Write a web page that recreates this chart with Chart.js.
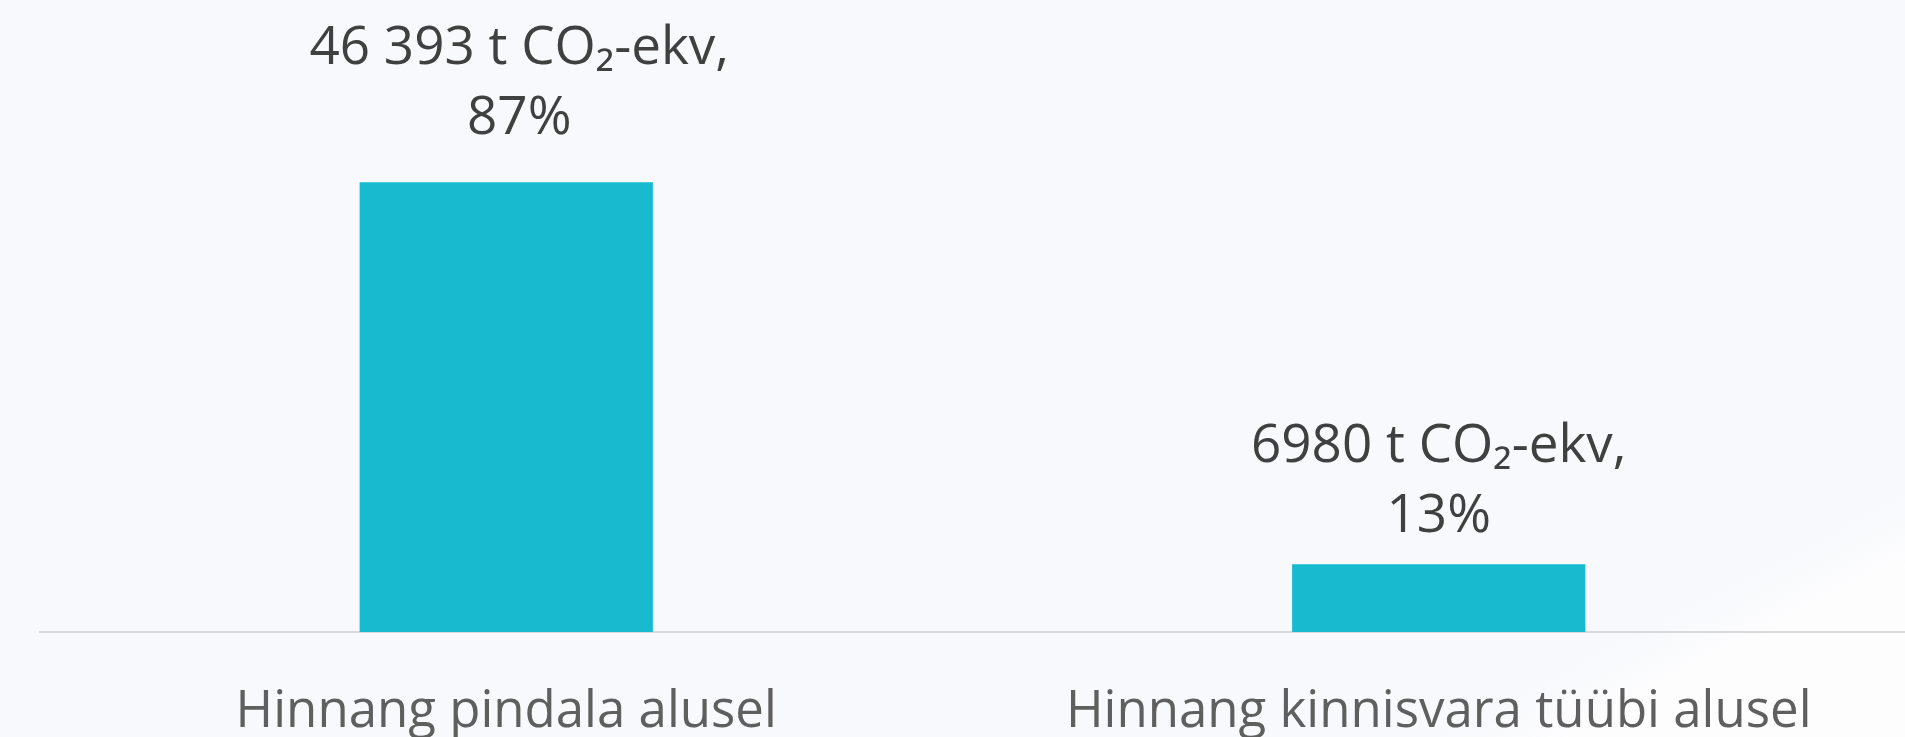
<!DOCTYPE html>
<html lang="et">
<head>
<meta charset="utf-8">
<title>Heitkoguse hinnang</title>
<script src="https://cdn.jsdelivr.net/npm/chart.js@4.4.1/dist/chart.umd.min.js"></script>
<style>
    html, body {
        margin: 0;
        padding: 0;
        width: 1905px;
        height: 737px;
        overflow: hidden;
        background: linear-gradient(152.6deg, #f8f9fc 0%, #f8f9fc 86%, #fdfdfe 90%, #fdfdfe 100%);
    }
    #wrap { position: relative; width: 1905px; height: 737px; }
</style>
</head>
<body>
<div id="wrap"><canvas id="chart" width="1905" height="737"></canvas></div>
<script>

// =========================================================
// Data
// =========================================================

const categories = ['Hinnang pindala alusel', 'Hinnang kinnisvara tüübi alusel'];
const emissions  = [46393, 6980];   // t CO2-ekv
const shares     = [87, 13];        // %
const unitText   = 't CO₂-ekv,';

// =========================================================
// Helpers
// =========================================================

// Estonian style: space as thousands separator, only from 5 digits up
function _fmt(n) {
    const s = String(n);
    return s.length > 4 ? s.replace(/\B(?=(\d{3})+(?!\d))/g, ' ') : s;
}

// =========================================================
// Value labels above the bars
// =========================================================

const valueLabels = {
    id: 'valueLabels',
    afterDatasetsDraw(chart, args, opts) {
        const ctx  = chart.ctx;
        const meta = chart.getDatasetMeta(0);
        ctx.save();
        ctx.font = opts.font;
        ctx.fillStyle = opts.color;
        ctx.textAlign = 'center';
        ctx.textBaseline = 'alphabetic';
        meta.data.forEach((bar, i) => {
            const x  = bar.x + (opts.offsetX[i] || 0);
            const y2 = bar.y - opts.gap[i];
            ctx.fillText(shares[i] + '%', x, y2);
            ctx.fillText(_fmt(emissions[i]) + ' ' + unitText, x, y2 - opts.lineHeight);
        });
        ctx.restore();
    }
};

// =========================================================
// Chart
// =========================================================

const ctx = document.getElementById('chart').getContext('2d');

new Chart(ctx, {
    type: 'bar',
    data: {
        labels: categories,
        datasets: [{
            data: emissions,
            backgroundColor: '#17bacf',
            borderWidth: 0,
            categoryPercentage: 1,
            barPercentage: 0.3145,
        }],
    },
    options: {
        responsive: false,
        animation: false,
        layout: { padding: { left: 40, right: 0, top: 0, bottom: 0 } },
        plugins: {
            legend:  { display: false },
            tooltip: { enabled: false },
            valueLabels: {
                font: '400 53px "Open Sans", "Noto Sans", sans-serif',
                color: '#404040',
                lineHeight: 70,
                offsetX: [13, 0],
                gap: [48, 32],
            },
        },
        scales: {
            x: {
                grid: { display: false, drawTicks: false },
                border: { display: true, color: '#d9d9d9', width: 2 },
                ticks: {
                    color: '#5f5f5f',
                    padding: 50,
                    font: { family: '"Open Sans", "Noto Sans", sans-serif', size: 51, weight: 400 },
                    maxRotation: 0,
                    autoSkip: false,
                },
                afterFit: (scale) => { scale.height = 105; },
            },
            y: {
                display: false,
                min: 0,
                max: 65200,
            },
        },
    },
    plugins: [valueLabels],
});

</script>
</body>
</html>
